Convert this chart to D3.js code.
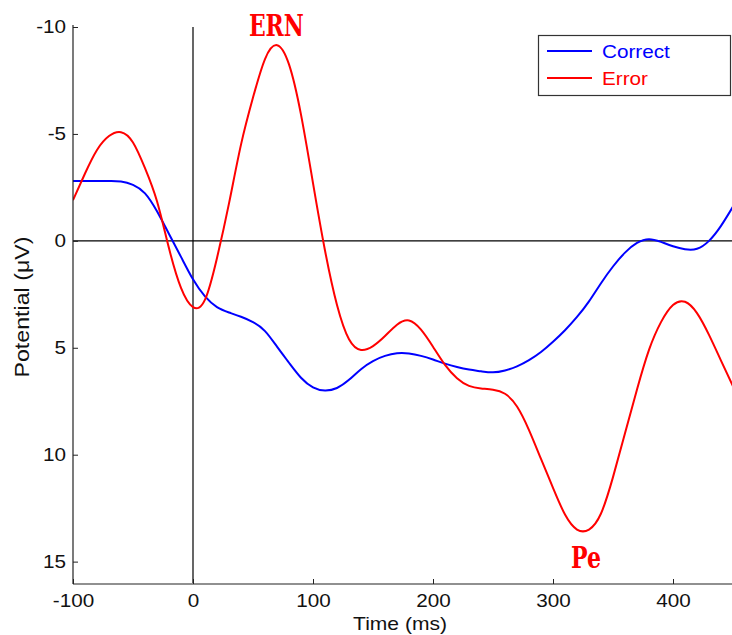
<!DOCTYPE html>
<html>
<head>
<meta charset="utf-8">
<script src="https://cdn.jsdelivr.net/npm/d3@7"></script>
<style>
html,body{margin:0;padding:0;background:#fff;}
svg{display:block;}
</style>
</head>
<body>
<svg id="chart" width="732" height="635"></svg>
<script>
// ---- data ----
const times = [-100,-90,-80,-70,-60,-50,-40,-30,-20,-10,0,10,20,30,40,50,60,70,80,90,100,110,120,130,140,150,160,170,180,190,200,210,220,230,240,250,260,270,280,290,300,310,320,330,340,350,360,370,380,390,400,410,420,430,440,450];
const correctValues = [-2.8,-2.8,-2.8,-2.8,-2.78,-2.62,-2.22,-1.38,-0.32,0.75,1.8,2.6,3.1,3.35,3.55,3.8,4.22,4.95,5.7,6.4,6.85,7.0,6.88,6.5,6.0,5.62,5.38,5.26,5.27,5.38,5.55,5.74,5.9,6.02,6.1,6.15,6.06,5.87,5.58,5.2,4.72,4.18,3.56,2.83,1.98,1.2,0.55,0.1,-0.08,0.05,0.25,0.39,0.37,0.0,-0.7,-1.6];
const errorValues = [-1.9,-3.15,-4.25,-4.9,-5.08,-4.6,-3.4,-1.85,0.35,2.2,3.1,2.75,0.8,-1.75,-4.5,-6.7,-8.5,-9.15,-8.25,-5.9,-2.7,0.45,3.0,4.6,5.1,4.92,4.45,3.92,3.72,4.15,4.95,5.8,6.42,6.78,6.9,6.96,7.15,7.75,8.85,10.2,11.55,12.8,13.5,13.5,12.75,11.05,9.0,6.95,5.1,3.8,3.0,2.85,3.38,4.4,5.6,6.8];
const seriesNames = ["Correct","Error"];
const seriesColors = ["#0000ff","#ff0000"];
const xTicks = [-100,0,100,200,300,400];
const yTicks = [-10,-5,0,5,10,15];
const annotations = [{text:"ERN", t:67, v:-9.16}, {text:"Pe", t:325, v:13.66}];

// ---- layout ----
const svg = d3.select("#chart");
const pL = 73, pR = 733, pT = 27, pB = 583;
const x = d3.scaleLinear().domain([-100, 450]).range([pL, pR]);
const y = d3.scaleLinear().domain([-10, 16]).range([pT, pB]);
const font = "Liberation Sans, Arial, sans-serif";

svg.append("defs").append("clipPath").attr("id","plotclip")
  .append("rect").attr("x", pL).attr("y", pT - 5).attr("width", 732 - pL).attr("height", pB - pT + 10);

// zero reference lines
svg.append("line").attr("x1", pL).attr("x2", 732).attr("y1", y(0)).attr("y2", y(0))
  .attr("stroke","#000").attr("stroke-width",1.2);
svg.append("line").attr("x1", x(0)).attr("x2", x(0)).attr("y1", pT).attr("y2", pB)
  .attr("stroke","#000").attr("stroke-width",1.2);

// curves
const line = d3.line().x((d,i)=>x(times[i])).y(d=>y(d)).curve(d3.curveNatural);
const plot = svg.append("g").attr("clip-path","url(#plotclip)");
[correctValues, errorValues].forEach((vals, k) => {
  plot.append("path").datum(vals).attr("d", line)
    .attr("fill","none").attr("stroke", seriesColors[k]).attr("stroke-width", 2)
    .attr("stroke-linejoin","round");
});

// axes
const fmt = d => String(d);
const yAxis = d3.axisLeft(y).tickValues(yTicks).tickFormat(fmt).tickSizeInner(-5).tickSizeOuter(0).tickPadding(6);
const gy = svg.append("g").attr("transform", `translate(${pL},0)`).call(yAxis);
const xAxis = d3.axisBottom(x).tickValues(xTicks).tickFormat(fmt).tickSizeInner(-5).tickSizeOuter(0).tickPadding(10);
const gx = svg.append("g").attr("transform", `translate(0,${pB + 1})`).call(xAxis);
[gx, gy].forEach(g => {
  g.select(".domain").attr("stroke","#222").attr("stroke-width",1.2);
  g.selectAll(".tick line").attr("stroke","#222");
  g.selectAll(".tick text").attr("font-family", font).attr("font-size", 18)
    .attr("fill","#111").attr("transform","scale(1.15,1)");
});
gy.select(".domain").attr("d", `M0,${pT-2}V${pB+1}`);
gx.select(".domain").attr("d", `M${pL},0H732`);

// axis titles
svg.append("text").attr("transform", "translate(400,630) scale(1.17,1)")
  .attr("text-anchor","middle").attr("font-family", font).attr("font-size", 18).attr("fill","#111")
  .text("Time (ms)");
svg.append("text").attr("transform", "translate(29,307) rotate(-90)")
  .attr("text-anchor","middle").attr("font-family", font).attr("font-size", 20).attr("fill","#111")
  .attr("textLength", 141).attr("lengthAdjust","spacingAndGlyphs")
  .text("Potential (\u03bcV)");

// annotations
const annPos = [{y:36, w:55}, {y:568, w:30}];
annotations.forEach((a, i) => {
  svg.append("text").attr("x", x(a.t) + 3).attr("y", annPos[i].y)
    .attr("text-anchor","middle").attr("font-family","DejaVu Serif, serif")
    .attr("font-weight","bold").attr("font-size", 29).attr("fill","#ff0000")
    .attr("textLength", annPos[i].w).attr("lengthAdjust","spacingAndGlyphs")
    .text(a.text);
});

// legend
const lg = svg.append("g");
lg.append("rect").attr("x", 538.5).attr("y", 35.5).attr("width", 192).attr("height", 60)
  .attr("fill","#fff").attr("stroke","#333").attr("stroke-width",1.2);
seriesNames.forEach((name, i) => {
  const yy = 51 + i * 27;
  lg.append("line").attr("x1", 547).attr("x2", 592).attr("y1", yy).attr("y2", yy)
    .attr("stroke", seriesColors[i]).attr("stroke-width", 2);
  lg.append("text").attr("transform", `translate(602,${yy + 6.5}) scale(1.15,1)`)
    .attr("font-family", font).attr("font-size", 18).attr("fill", seriesColors[i])
    .text(name);
});
</script>
</body>
</html>
